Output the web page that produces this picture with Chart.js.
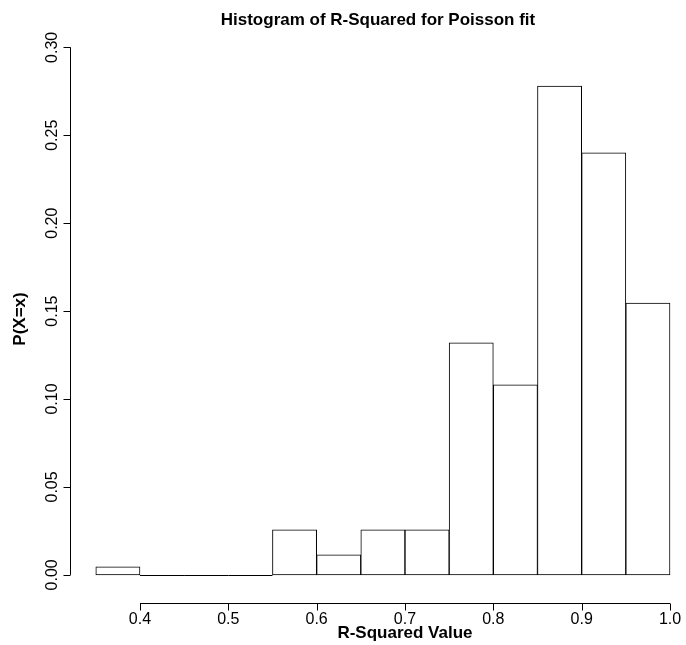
<!DOCTYPE html>
<html><head><meta charset="utf-8">
<script src="https://cdn.jsdelivr.net/npm/chart.js@4/dist/chart.umd.min.js"></script>
<style>html,body{margin:0;background:#fff}#w{width:686px;height:645px}</style>
</head><body><div id="w"><canvas id="c"></canvas></div>
<script>
const binCenters=[0.375,0.425,0.475,0.525,0.575,0.625,0.675,0.725,0.775,0.825,0.875,0.925,0.975];
const density=[0.0045,0,0,0,0.0256,0.0114,0.0256,0.0256,0.132,0.108,0.278,0.240,0.1545];
const xTicks=[0.4,0.5,0.6,0.7,0.8,0.9,1.0];
const yTicks=[0,0.05,0.10,0.15,0.20,0.25,0.30];
const titleText='Histogram of R-Squared for Poisson fit', xTitle='R-Squared Value', yTitle='P(X=x)';
const F='"Liberation Sans", Arial, sans-serif';
const axes={id:'axes',afterDraw(ch){const c=ch.ctx,x=ch.scales.x,y=ch.scales.y,a=ch.chartArea;c.save();c.strokeStyle='#000';c.fillStyle='#000';c.lineWidth=1;
const yb=Math.round(a.bottom)+0.5, xl=Math.round(a.left)+0.5;
c.beginPath();c.moveTo(x.getPixelForValue(0.4),yb);c.lineTo(x.getPixelForValue(1.0),yb);
c.moveTo(xl,y.getPixelForValue(0));c.lineTo(xl,y.getPixelForValue(0.30));
xTicks.forEach(v=>{const p=Math.round(x.getPixelForValue(v))+0.5;c.moveTo(p,yb);c.lineTo(p,yb+7);});
yTicks.forEach(v=>{const p=Math.round(y.getPixelForValue(v))+0.5;c.moveTo(xl,p);c.lineTo(xl-7,p);});
const y0=Math.round(y.getPixelForValue(0))+0.5;
binCenters.forEach((v,i)=>{if(density[i]===0){c.moveTo(x.getPixelForValue(v-0.025),y0);c.lineTo(x.getPixelForValue(v+0.025),y0);}});
c.stroke();
c.font='16px '+F;c.textAlign='center';c.textBaseline='top';
xTicks.forEach(v=>c.fillText(v.toFixed(1),x.getPixelForValue(v),yb+8));
yTicks.forEach(v=>{c.save();c.translate(xl-10,y.getPixelForValue(v));c.rotate(-Math.PI/2);c.textBaseline='bottom';c.fillText(v.toFixed(2),0,0);c.restore();});
c.font='bold 17px '+F;c.textBaseline='middle';
c.fillText(xTitle,(x.getPixelForValue(0.4)+x.getPixelForValue(1.0))/2,633);
c.fillText(titleText,(a.left+a.right)/2+8,20);
c.save();c.translate(20,(a.top+a.bottom)/2);c.rotate(-Math.PI/2);c.fillText(yTitle,0,0);c.restore();
c.restore();}};
new Chart(document.getElementById('c'),{type:'bar',
data:{datasets:[{data:binCenters.map((v,i)=>({x:v,y:density[i]})),backgroundColor:'#fff',borderColor:'#000',borderWidth:1,borderSkipped:false,barPercentage:1,categoryPercentage:1,clip:false}]},
options:{responsive:true,maintainAspectRatio:false,animation:false,
layout:{padding:{top:35,right:16,left:70,bottom:42}},
plugins:{legend:{display:false},tooltip:{enabled:false}},
scales:{x:{type:'linear',display:false,offset:false,min:0.3208,max:1.0},y:{display:false,min:-0.016,max:0.307}}},
plugins:[axes]});
</script></body></html>
